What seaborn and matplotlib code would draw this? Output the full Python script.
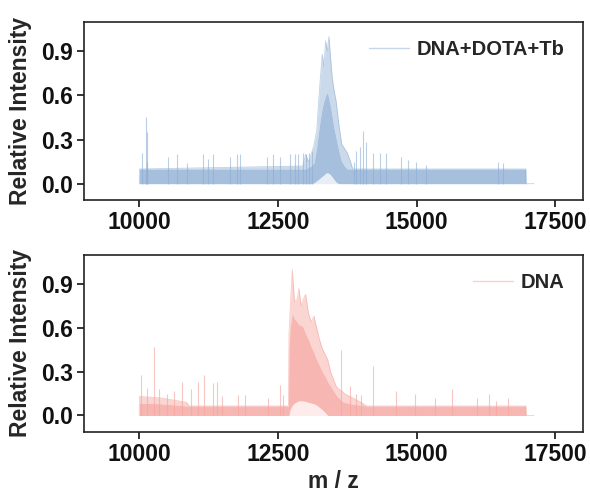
import numpy as np
import pandas as pd
import matplotlib
matplotlib.use("Agg")
import matplotlib.pyplot as plt
import seaborn as sns

# ---------------- data ----------------
# Top panel: DNA+DOTA+Tb -- envelope of the dense spectrum
top_mz = [10000, 10005, 12950, 13000, 13050, 13100, 13150, 13200, 13250, 13300,
          13330, 13360, 13390, 13420, 13450, 13480, 13510, 13550, 13600, 13650,
          13700, 13750, 13800, 13850, 16970, 16975, 17120]
top_upper = [0.0, 0.10, 0.12, 0.20, 0.15, 0.20, 0.26, 0.36, 0.64, 0.88,
             0.80, 0.97, 0.90, 1.00, 0.85, 0.72, 0.64, 0.56, 0.40, 0.27,
             0.24, 0.21, 0.16, 0.10, 0.10, 0.0, 0.0]
top_core = [0.0, 0.10, 0.10, 0.10, 0.11, 0.12, 0.14, 0.25, 0.40, 0.52,
            0.56, 0.60, 0.62, 0.58, 0.52, 0.45, 0.38, 0.31, 0.22, 0.15,
            0.12, 0.10, 0.10, 0.10, 0.10, 0.0, 0.0]
top_lower = [0.0, 0.0, 0.0, 0.0, 0.0, 0.0, 0.005, 0.02, 0.035, 0.05,
             0.06, 0.07, 0.075, 0.07, 0.06, 0.045, 0.03, 0.01, 0.0, 0.0,
             0.0, 0.0, 0.0, 0.0, 0.0, 0.0, 0.0]
top_spike_mz = [10048, 10126, 10132, 10140, 10522, 10677, 10860, 11157, 11247, 11337,
                11637, 11757, 11817, 12297, 12417, 12536, 12716, 12806, 12866, 12960,
                13010, 13060, 13120, 13880, 13900, 13975, 14030, 14095, 14215, 14335,
                14455, 14725, 14845, 14995, 15175, 16463, 16553]
top_spike_h = [0.21, 0.45, 0.35, 0.15, 0.18, 0.20, 0.14, 0.20, 0.17, 0.20,
               0.18, 0.20, 0.20, 0.18, 0.20, 0.18, 0.20, 0.20, 0.20, 0.21,
               0.20, 0.21, 0.22, 0.15, 0.22, 0.25, 0.36, 0.28, 0.21, 0.21,
               0.21, 0.18, 0.16, 0.15, 0.13, 0.15, 0.14]

# Bottom panel: DNA
bot_mz = [10000, 10005, 10400, 10850, 10900, 12690, 12700, 12720, 12760, 12800,
          12850, 12880, 12920, 12960, 13000, 13050, 13100, 13150, 13200, 13250,
          13300, 13350, 13400, 13450, 13500, 13550, 13600, 13650, 13700, 13800,
          13900, 14000, 14100, 16970, 16975, 17120]
bot_upper = [0.0, 0.13, 0.12, 0.09, 0.065, 0.065, 0.55, 0.72, 1.00, 0.78,
             0.80, 0.87, 0.75, 0.80, 0.83, 0.70, 0.64, 0.68, 0.60, 0.52,
             0.46, 0.42, 0.38, 0.30, 0.25, 0.20, 0.18, 0.17, 0.15, 0.13,
             0.11, 0.09, 0.065, 0.065, 0.0, 0.0]
bot_core = [0.0, 0.085, 0.08, 0.065, 0.065, 0.065, 0.45, 0.60, 0.70, 0.66,
            0.64, 0.62, 0.62, 0.60, 0.56, 0.52, 0.47, 0.43, 0.38, 0.34,
            0.30, 0.27, 0.23, 0.20, 0.17, 0.14, 0.12, 0.10, 0.09, 0.08,
            0.075, 0.07, 0.065, 0.065, 0.0, 0.0]
bot_lower = [0.0, 0.0, 0.0, 0.0, 0.0, 0.0, 0.0, 0.04, 0.07, 0.085,
             0.095, 0.10, 0.10, 0.10, 0.095, 0.09, 0.085, 0.08, 0.07, 0.055,
             0.04, 0.02, 0.0, 0.0, 0.0, 0.0, 0.0, 0.0, 0.0, 0.0,
             0.0, 0.0, 0.0, 0.0, 0.0, 0.0]
bot_spike_mz = [10030, 10138, 10270, 10360, 10500, 10620, 10768, 10940, 11067, 11170,
                11330, 11397, 11500, 11780, 11900, 12320, 12536, 12590, 13633, 13800,
                13900, 14000, 14215, 14635, 14965, 15330, 15642, 16093, 16313, 16430,
                16650]
bot_spike_h = [0.28, 0.19, 0.47, 0.18, 0.15, 0.17, 0.23, 0.18, 0.23, 0.28,
               0.22, 0.23, 0.13, 0.14, 0.14, 0.12, 0.21, 0.14, 0.45, 0.20,
               0.15, 0.14, 0.34, 0.17, 0.15, 0.12, 0.18, 0.12, 0.15, 0.10,
               0.12]

labels = ["DNA+DOTA+Tb", "DNA"]
colors = ["#8CAED4", "#F5A29B"]
x_ticks = [10000, 12500, 15000, 17500]
y_ticks = [0.0, 0.3, 0.6, 0.9]

# ---------------- plotting ----------------
sns.set_style("ticks")
plt.rcParams["font.family"] = ["Liberation Sans", "DejaVu Sans"]
plt.rcParams["font.weight"] = "bold"
plt.rcParams["axes.labelweight"] = "bold"

fig = plt.figure(figsize=(5.9, 4.96), dpi=100)
ax_top = fig.add_axes([0.142, 0.597, 0.846, 0.359])
ax_bot = fig.add_axes([0.142, 0.130, 0.846, 0.356])

panels = [
    (ax_top, top_mz, top_lower, top_core, top_upper, top_spike_mz, top_spike_h),
    (ax_bot, bot_mz, bot_lower, bot_core, bot_upper, bot_spike_mz, bot_spike_h),
]

for i, (ax, mz, lo, core, up, smz, sh) in enumerate(panels):
    c = colors[i]
    mz_a = np.array(mz, dtype=float)
    ax.fill_between(mz_a, 0, lo, color=c, alpha=0.2, lw=0)
    ax.fill_between(mz_a, lo, core, color=c, alpha=0.78, lw=0)
    ax.fill_between(mz_a, core, up, color=c, alpha=0.45, lw=0)
    ax.vlines(smz, 0, sh, color=c, alpha=0.6, lw=0.8)
    df = pd.DataFrame({"mz": mz_a, "intensity": up})
    sns.lineplot(data=df, x="mz", y="intensity", ax=ax, color=c, lw=0.6,
                 alpha=0.55, label=labels[i], estimator=None, sort=False)

    ax.set_xlim(9000, 18000)
    ax.set_ylim(-0.11, 1.10)
    ax.set_xticks(x_ticks)
    ax.set_xticklabels([str(t) for t in x_ticks])
    ax.set_yticks(y_ticks)
    ax.set_yticklabels([f"{t:.1f}" for t in y_ticks])
    ax.tick_params(axis="both", labelsize=16.5, length=5, width=1.2, pad=3,
                   direction="out", colors="#111111")
    for lab in ax.get_xticklabels() + ax.get_yticklabels():
        lab.set_fontweight("bold")
    for sp in ax.spines.values():
        sp.set_visible(True)
        sp.set_linewidth(1.2)
        sp.set_color("#222222")
    ax.set_ylabel("Relative Intensity", fontsize=16.5, fontweight="bold", labelpad=6)
    leg = ax.legend(loc="upper right", frameon=False, prop={"size": 14.5, "weight": "bold"},
                    handlelength=2.0, handletextpad=0.4)
    for h in leg.get_lines():
        h.set_linewidth(1.0)
        h.set_alpha(0.5)

ax_top.set_xlabel("")
ax_bot.set_xlabel("m / z", fontsize=16.5, fontweight="bold", labelpad=3)

fig.savefig("out.png", dpi=100)
